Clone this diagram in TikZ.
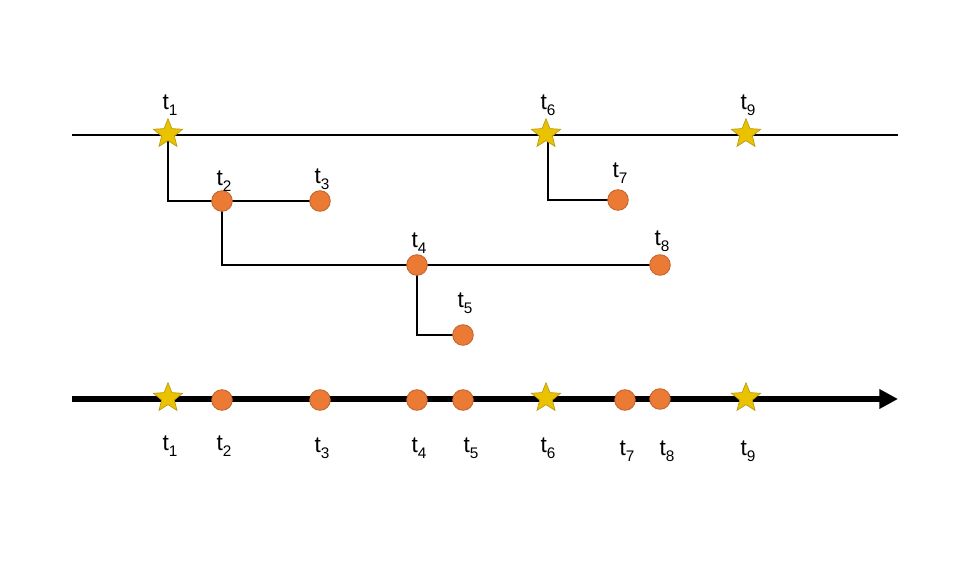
\documentclass[tikz,border=0pt]{standalone}
\usepackage{fontspec}
\setmainfont{Liberation Sans}
\newfontfamily\labfont{Liberation Sans}
\usetikzlibrary{shapes.geometric,arrows.meta}
\definecolor{dotfill}{HTML}{EB7A35}
\definecolor{dotedge}{HTML}{C0602A}
\definecolor{starfill}{HTML}{EBC200}
\definecolor{staredge}{HTML}{B89A10}
\newcommand{\tlab}[1]{t\raisebox{-0.28em}{\fontsize{11.5}{12}\selectfont #1}}
\begin{document}
\begin{tikzpicture}[x=0.75pt,y=-0.75pt,
  dot/.style={circle,fill=dotfill,draw=dotedge,line width=0.6pt,inner sep=0pt,minimum size=15.5pt},
  staro/.style={star,star points=5,star point ratio=2.3,fill=starfill,draw=staredge,line width=0.5pt,inner sep=0pt,minimum size=23pt},
  lbl/.style={font=\labfont\fontsize{17}{20}\selectfont,inner sep=0pt},
  tree/.style={line width=2pt},
  axis/.style={line width=3.8pt,-{Triangle[length=14pt,width=14pt]}}]
\useasboundingbox (0,0) rectangle (968,573);
% top line
\coordinate (tl) at (72,135);
\coordinate (tr) at (898,135);
\draw[tree] (tl) -- (tr);
% tree connectors
\coordinate (s1) at (168,135);
\coordinate (s6) at (548,135);
\coordinate (a2) at (222,201);
\coordinate (a3) at (320,201);
\coordinate (a7) at (618,200);
\coordinate (a4) at (417,265);
\coordinate (a8) at (660,265);
\coordinate (a5) at (463,335);
\draw[tree] (s1) |- (a2) -- (a3);
\draw[tree] (s6) |- (a7);
\draw[tree] (a2) |- (a8);
\draw[tree] (a4) |- (a5);
% top nodes
\node[staro] (T1) at (168,134) {};
\node[staro] (T6) at (546,134) {};
\node[staro] (T9) at (746,134) {};
\node[dot] (T2) at (a2) {};
\node[dot] (T3) at (a3) {};
\node[dot] (T7) at (a7) {};
\node[dot] (T4) at (a4) {};
\node[dot] (T8) at (a8) {};
\node[dot] (T5) at (a5) {};
\node[lbl] (L1) at (170,105) {\tlab{1}};
\node[lbl] (L6) at (548,105) {\tlab{6}};
\node[lbl] (L9) at (748,105) {\tlab{9}};
\node[lbl] (L2) at (224,181) {\tlab{2}};
\node[lbl] (L3) at (322,179) {\tlab{3}};
\node[lbl] (L7) at (620,173) {\tlab{7}};
\node[lbl] (L4) at (419,243) {\tlab{4}};
\node[lbl] (L8) at (662,241) {\tlab{8}};
\node[lbl] (L5) at (465,303) {\tlab{5}};
% bottom axis
\coordinate (bl) at (72,399);
\coordinate (br) at (898,399);
\draw[axis] (bl) -- (br);
\node[staro] (B1) at (168,398) {};
\node[dot] (B2) at (222,400) {};
\node[dot] (B3) at (320,400) {};
\node[dot] (B4) at (417,400) {};
\node[dot] (B5) at (463,400) {};
\node[staro] (B6) at (546,398) {};
\node[dot] (B7) at (625,400) {};
\node[dot] (B8) at (660,399) {};
\node[staro] (B9) at (746,398) {};
\node[lbl] (M1) at (170,446) {\tlab{1}};
\node[lbl] (M2) at (224,446) {\tlab{2}};
\node[lbl] (M3) at (322,448) {\tlab{3}};
\node[lbl] (M4) at (419,448) {\tlab{4}};
\node[lbl] (M5) at (471,448) {\tlab{5}};
\node[lbl] (M6) at (548,448) {\tlab{6}};
\node[lbl] (M7) at (627,451) {\tlab{7}};
\node[lbl] (M8) at (667,451) {\tlab{8}};
\node[lbl] (M9) at (748,451) {\tlab{9}};
\end{tikzpicture}
\end{document}
